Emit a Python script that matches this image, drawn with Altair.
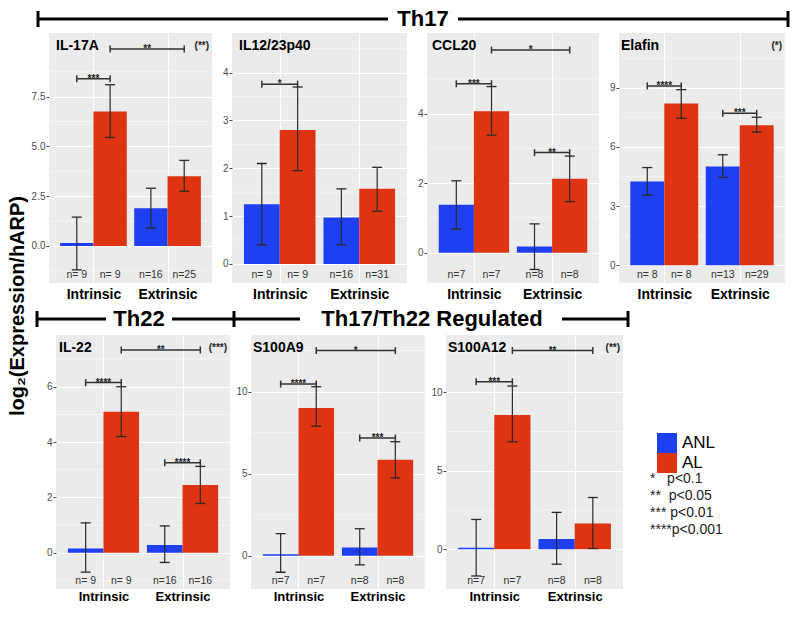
import altair as alt
import pandas as pd

# ---------------- data ----------------
PANELS = ["IL-17A", "IL12/23p40", "CCL20", "Elafin", "IL-22", "S100A9", "S100A12"]
SITES = ["Intrinsic", "Extrinsic"]
GROUPS = ["ANL", "AL"]
# bar order in each panel: Intrinsic ANL, Intrinsic AL, Extrinsic ANL, Extrinsic AL
MEANS = [
    [0.15, 6.75, 1.90, 3.50],
    [1.25, 2.80, 0.97, 1.57],
    [1.38, 4.07, 0.18, 2.13],
    [4.25, 8.20, 5.00, 7.10],
    [0.15, 5.10, 0.28, 2.45],
    [0.10, 9.00, 0.50, 5.85],
    [0.10, 8.55, 0.65, 1.65],
]
ERR_LO = [
    [-1.20, 5.45, 0.90, 2.75],
    [0.40, 1.95, 0.40, 1.10],
    [0.68, 3.38, -0.48, 1.47],
    [3.55, 7.45, 4.45, 6.75],
    [-0.70, 4.20, -0.35, 1.78],
    [-1.00, 7.90, -0.55, 4.75],
    [-1.70, 6.85, -0.95, 0.05],
]
ERR_HI = [
    [1.45, 8.10, 2.90, 4.30],
    [2.10, 3.70, 1.57, 2.02],
    [2.07, 4.78, 0.83, 2.78],
    [4.95, 8.90, 5.60, 7.50],
    [1.08, 6.00, 0.97, 3.12],
    [1.35, 10.30, 1.65, 6.95],
    [1.90, 10.40, 2.35, 3.30],
]
N_LABELS = [
    ["n= 9", "n= 9", "n=16", "n=25"],
    ["n= 9", "n= 9", "n=16", "n=31"],
    ["n=7", "n=7", "n=8", "n=8"],
    ["n= 8", "n= 8", "n=13", "n=29"],
    ["n= 9", "n= 9", "n=16", "n=16"],
    ["n=7", "n=7", "n=8", "n=8"],
    ["n=7", "n=7", "n=8", "n=8"],
]
# significance brackets: (from bar, to bar, height, stars)
SIG_BRACKETS = [
    [(0, 1, 8.40, "***"), (1, 3, 9.90, "**")],
    [(0, 1, 3.76, "*")],
    [(0, 1, 4.86, "***"), (2, 3, 2.88, "**"), (1, 3, 5.83, "*")],
    [(0, 1, 9.09, "****"), (2, 3, 7.70, "***")],
    [(0, 1, 6.15, "****"), (2, 3, 3.25, "****"), (1, 3, 7.33, "**")],
    [(0, 1, 10.46, "****"), (2, 3, 7.18, "***"), (1, 3, 12.50, "*")],
    [(0, 1, 10.67, "***"), (1, 3, 12.66, "**")],
]
OVERALL_SIG = ["(**)", "", "", "(*)", "(***)", "", "(**)"]
Y_TICKS = [[0, 2.5, 5, 7.5], [0, 1, 2, 3, 4], [0, 2, 4], [0, 3, 6, 9],
           [0, 2, 4, 6], [0, 5, 10], [0, 5, 10]]
Y_MINOR = [[-1.25, 1.25, 3.75, 6.25, 8.75], [0.5, 1.5, 2.5, 3.5, 4.5], [1, 3, 5],
           [1.5, 4.5, 7.5, 10.5], [-1, 1, 3, 5, 7], [2.5, 7.5, 12.5], [2.5, 7.5, 12.5]]
Y_DOMAIN = [[-1.86, 10.70], [-0.40, 4.83], [-0.87, 6.32], [-0.90, 11.77],
            [-1.31, 7.87], [-2.02, 13.45], [-2.53, 13.65]]
Y_FORMAT = [".1f", "d", "d", "d", "d", "d", "d"]
P_KEY = ["*\u00a0\u00a0\u00a0p<0.1", "**\u00a0\u00a0p<0.05", "***\u00a0p<0.01", "****p<0.001"]
Y_TITLE = "log\u2082(Expression/hARP)"

# ---------------- style / layout ----------------
BLUE = "#1F3FF2"
RED = "#DE3412"
BG = "#EBEBEB"
INK = "#2A2A2A"
AXIS_GREY = "#4D4D4D"
X_DOMAIN = [0.4, 2.6]
DODGE = 0.225
HALF = 0.225
ROW1 = dict(lead=1, gap=20, widths=[163, 175, 172, 166], height=250, xpad=4, xfont=14)
ROW2 = dict(lead=7, gap=21, widths=[174, 174, 177], height=254, xpad=1, xfont=13)
TITLE_DX = [7, 7, 5, 2, 3, 2, 2]

BAR_SLOTS = [(0, 0), (0, 1), (1, 0), (1, 1)]


def one_row():
    return alt.Data(values=[{}])


def panel(i, W, H, xpad, xfont):
    centers = [s + 1 + (DODGE if g == 1 else -DODGE) for s, g in BAR_SLOTS]
    bars = pd.DataFrame({
        "site": [SITES[s] for s, g in BAR_SLOTS],
        "group": [GROUPS[g] for s, g in BAR_SLOTS],
        "mean": MEANS[i],
        "lo": ERR_LO[i],
        "hi": ERR_HI[i],
        "n": N_LABELS[i],
        "xc": centers,
        "x0": [c - HALF for c in centers],
        "x1": [c + HALF for c in centers],
    })
    br = pd.DataFrame({
        "xa": [centers[a] for a, b, y, t in SIG_BRACKETS[i]],
        "xb": [centers[b] for a, b, y, t in SIG_BRACKETS[i]],
        "by": [y for a, b, y, t in SIG_BRACKETS[i]],
        "lab": [t for a, b, y, t in SIG_BRACKETS[i]],
    })
    br["xm"] = (br["xa"] + br["xb"]) / 2

    xs = alt.Scale(domain=X_DOMAIN, nice=False, zero=False)
    ys = alt.Scale(domain=Y_DOMAIN[i], nice=False, zero=False)
    x_axis = alt.Axis(
        values=[1, 2], title=None,
        labelExpr=f"datum.value == 1 ? '{SITES[0]}' : '{SITES[1]}'",
        grid=True, gridColor="white", gridWidth=1.1, domain=False, ticks=False,
        labelFontSize=xfont, labelFontWeight="bold", labelColor="black",
        labelPadding=xpad,
    )
    y_axis = alt.Axis(
        values=Y_TICKS[i], format=Y_FORMAT[i], title=None,
        grid=True, gridColor="white", gridWidth=1.1, domain=False,
        tickSize=3, tickColor=AXIS_GREY, labelColor=AXIS_GREY, labelFontSize=10,
        labelPadding=1,
    )
    color = alt.Color(
        "group:N", scale=alt.Scale(domain=GROUPS, range=[BLUE, RED]),
        legend=alt.Legend(
            title=None, orient="none", legendX=649, legendY=424,
            symbolType="square", symbolSize=400, symbolStrokeWidth=0,
            symbolOpacity=1, labelFontSize=17, labelColor="black",
            rowPadding=0, labelOffset=5,
        ),
    )
    X = lambda f: alt.X(f, scale=xs, axis=x_axis)
    Y = lambda f: alt.Y(f, scale=ys, axis=y_axis)

    minor = alt.Chart(pd.DataFrame({"v": Y_MINOR[i]})).mark_rule(
        color="white", strokeWidth=0.5).encode(y=Y("v:Q"))
    bar = alt.Chart(bars).mark_bar(opacity=1).encode(
        x=X("x0:Q"), x2="x1:Q", y=Y("mean:Q"), y2=alt.datum(0), color=color,
    )
    err = alt.Chart(bars).mark_rule(color=INK, strokeWidth=1.2).encode(
        x=X("xc:Q"), y=Y("lo:Q"), y2="hi:Q")
    cap_lo = alt.Chart(bars).mark_tick(orient="horizontal", size=10, thickness=1.3,
                                       color=INK, opacity=1).encode(x=X("xc:Q"), y=Y("lo:Q"))
    cap_hi = alt.Chart(bars).mark_tick(orient="horizontal", size=10, thickness=1.3,
                                       color=INK, opacity=1).encode(x=X("xc:Q"), y=Y("hi:Q"))
    ntext = alt.Chart(bars).mark_text(fontSize=10.5, color="#333333").encode(
        x=X("xc:Q"), y=alt.value(H - 8), text="n:N")
    brule = alt.Chart(br).mark_rule(color="#333333", strokeWidth=1.5).encode(
        x=X("xa:Q"), x2="xb:Q", y=Y("by:Q"))
    bcap_a = alt.Chart(br).mark_tick(orient="vertical", size=7, thickness=1.5,
                                     color="#333333", opacity=1).encode(x=X("xa:Q"), y=Y("by:Q"))
    bcap_b = alt.Chart(br).mark_tick(orient="vertical", size=7, thickness=1.5,
                                     color="#333333", opacity=1).encode(x=X("xb:Q"), y=Y("by:Q"))
    blab = alt.Chart(br).mark_text(fontSize=10, fontWeight="bold", color="#222222",
                                   baseline="alphabetic", dy=3).encode(
        x=X("xm:Q"), y=Y("by:Q"), text="lab:N")
    title = alt.Chart(pd.DataFrame({"t": [PANELS[i]]})).mark_text(
        align="left", baseline="middle", fontSize=14, fontWeight="bold", color="black"
    ).encode(x=alt.value(TITLE_DX[i]), y=alt.value(13), text="t:N")
    layers = [minor, bar, err, cap_lo, cap_hi, ntext, brule, bcap_a, bcap_b, blab, title]
    if OVERALL_SIG[i]:
        layers.append(alt.Chart(pd.DataFrame({"t": [OVERALL_SIG[i]]})).mark_text(
            align="right", baseline="middle", fontSize=10, fontWeight="bold", color="#222222"
        ).encode(x=alt.value(W - 3), y=alt.value(13), text="t:N"))
    return alt.layer(*layers).properties(
        width=W, height=H, view=alt.ViewBackground(fill=BG, strokeWidth=0))


def header(W, H, segs, caps, labels, y):
    layers = []
    for a, b in segs:
        layers.append(alt.Chart(one_row()).mark_rule(color="black", strokeWidth=3).encode(
            x=alt.value(a), x2=alt.value(b), y=alt.value(y)))
    for c in caps:
        layers.append(alt.Chart(one_row()).mark_rule(color="black", strokeWidth=3).encode(
            x=alt.value(c), y=alt.value(y - 8), y2=alt.value(y + 8)))
    for t, cx in labels:
        layers.append(alt.Chart(one_row()).mark_text(
            text=t, fontSize=22, fontWeight="bold", color="black",
            align="center", baseline="middle").encode(x=alt.value(cx), y=alt.value(y)))
    return alt.layer(*layers).properties(width=W, height=H)


def lead(w, h):
    # blank spacer cell; its (empty) text sits fully inside the cell
    return alt.Chart(one_row()).mark_text(text=" ", align="left", baseline="top", fontSize=1).encode(
        x=alt.value(0), y=alt.value(0)).properties(width=w, height=h)


row1 = alt.hconcat(
    lead(ROW1["lead"], ROW1["height"]),
    *[panel(k, ROW1["widths"][k], ROW1["height"], ROW1["xpad"], ROW1["xfont"]) for k in range(4)],
    spacing=ROW1["gap"], bounds="flush",
)

key = alt.Chart(pd.DataFrame({"idx": list(range(len(P_KEY))), "t": P_KEY})).mark_text(
    align="left", baseline="middle", fontSize=14, color="#222222"
).encode(
    x=alt.value(6),
    y=alt.Y("idx:O", axis=None, scale=alt.Scale(domain=list(range(len(P_KEY))),
                                                 range=[144, 195], padding=0)),
    text="t:N",
).properties(width=140, height=ROW2["height"])

row2 = alt.hconcat(
    lead(ROW2["lead"], ROW2["height"]),
    *[panel(4 + k, ROW2["widths"][k], ROW2["height"], ROW2["xpad"], ROW2["xfont"]) for k in range(3)],
    key,
    spacing=ROW2["gap"], bounds="flush",
)

h1 = header(762, 24, segs=[(10, 360), (430, 760)], caps=[10, 760],
            labels=[("Th17", 395)], y=10)
h2 = header(762, 34, segs=[(9, 78), (144, 206), (206, 272), (534, 600)],
            caps=[9, 206, 600],
            labels=[("Th22", 111), ("Th17/Th22 Regulated", 404)], y=18)

ytitle = alt.Chart(one_row()).mark_text(
    text=Y_TITLE, angle=270, fontSize=20, fontWeight="bold", color="black",
    align="center", baseline="middle"
).encode(x=alt.value(10), y=alt.value(297)).properties(width=20, height=580)

chart = alt.hconcat(
    ytitle,
    alt.vconcat(h1, row1, h2, row2, spacing=0),
    spacing=0,
).properties(padding=0).configure(font="Liberation Sans").configure_view(strokeWidth=0)

chart.save("out.html", embed_options={"renderer": "svg", "actions": False})
